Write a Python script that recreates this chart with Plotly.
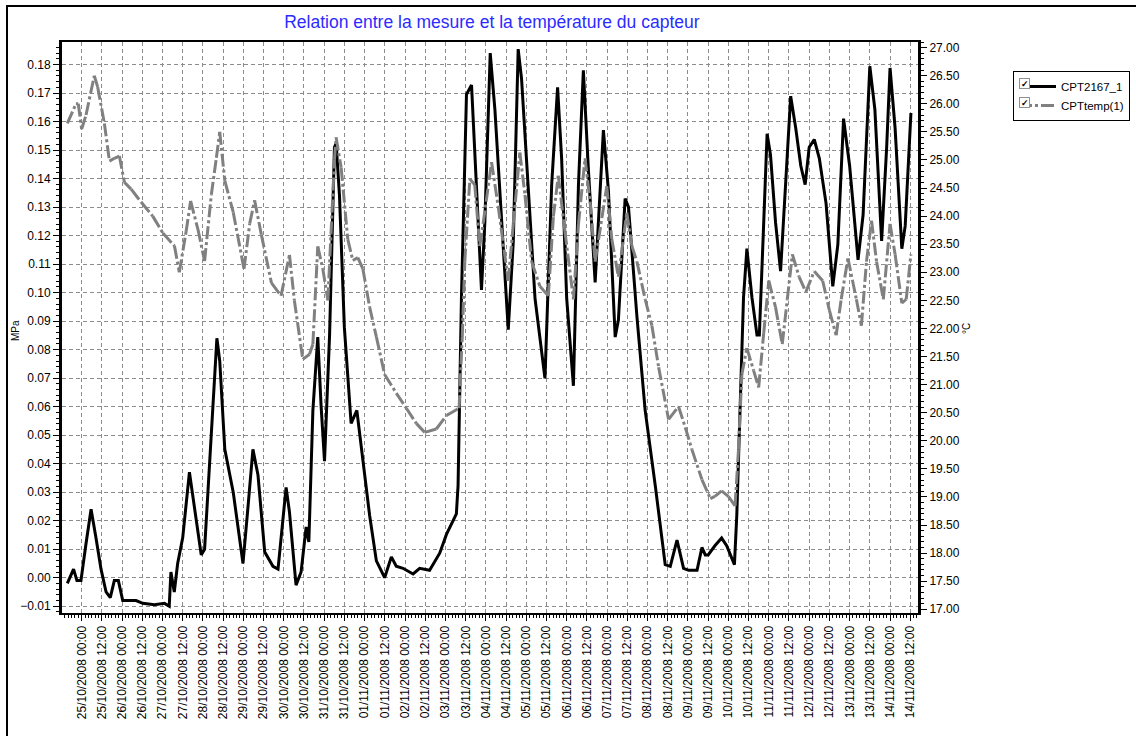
import plotly.graph_objects as go
import pandas as pd

# ---- data (hours after 25/10/2008 00:00) ----
base_time = "2008-10-25 00:00"

pressure_hours = [-8.5, -4.8, -2.8, -0.4, 2.6, 5.6, 8.5, 11.5, 14.5, 17, 19.4, 21.8, 24.4, 32.3, 36.3,
                  43.2, 49.2, 52, 53, 55, 57, 60, 64, 67, 71, 73, 77, 80.3, 82, 85, 90, 95.8, 98.8,
                  101.7, 104.7, 108.7, 113.6, 116.6, 121.4, 123.4, 127.3, 130.3, 133.3, 134.9, 137.3,
                  140.2, 142.2, 144.2, 147.2, 150.1, 151.1, 153.1, 156, 160, 163.4, 167, 171, 175,
                  179.9, 183.9, 186.8, 190.8, 196.8, 200.7, 206.6, 212.6, 216.6, 222.5, 223.5, 225.5,
                  228.5, 231.5, 234.4, 237.4, 239.4, 242.6, 245.4, 249.3, 253.3, 256.3, 259.2, 261.2,
                  265.2, 269.2, 275.1, 279.1, 282.6, 285, 288, 292, 295, 297.9, 300.9, 304.9, 309.8,
                  312.8, 316.8, 318.7, 322.7, 324.7, 329.7, 334.6, 340.6, 346.5, 349.5, 353.5, 357.4,
                  360.4, 365.4, 368.3, 370.3, 372, 376, 380, 383, 386, 387.6, 389, 391, 393, 395, 398,
                  401, 402.4, 405, 407, 409, 412, 415, 418, 421, 424, 427, 429.6, 432, 435, 438, 442,
                  446, 449, 452.4, 456, 461, 464, 468, 471, 475, 478, 480, 483, 487, 489, 492.4]
pressure_mpa = [-0.002, 0.003, -0.001, -0.001, 0.012, 0.024, 0.014, 0.003, -0.005, -0.007, -0.001,
                -0.001, -0.008, -0.008, -0.009, -0.0095, -0.009, -0.010, 0.002, -0.005, 0.005, 0.014,
                0.037, 0.024, 0.008, 0.010, 0.052, 0.084, 0.076, 0.045, 0.030, 0.005, 0.025, 0.045,
                0.036, 0.009, 0.004, 0.003, 0.0317, 0.023, -0.0026, 0.002, 0.0178, 0.0125, 0.0587,
                0.0844, 0.060, 0.0409, 0.085, 0.151, 0.1524, 0.134, 0.0877, 0.0541, 0.0587, 0.0416,
                0.0218, 0.0059, 0.000, 0.0073, 0.004, 0.0033, 0.0013, 0.0033, 0.0026, 0.0086, 0.0152,
                0.0224, 0.0323, 0.098, 0.1695, 0.1728, 0.1379, 0.1009, 0.1247, 0.184, 0.164, 0.1247,
                0.087, 0.118, 0.1854, 0.175, 0.138, 0.098, 0.0699, 0.138, 0.172, 0.147, 0.098,
                0.0673, 0.138, 0.178, 0.143, 0.1036, 0.157, 0.1356, 0.0844, 0.0904, 0.133, 0.130,
                0.0917, 0.0587, 0.0323, 0.0046, 0.004, 0.0132, 0.0033, 0.0026, 0.0026, 0.0106, 0.008,
                0.008, 0.0112, 0.0139, 0.0112, 0.0066, 0.0046, 0.0218, 0.0587, 0.0983, 0.1154, 0.0983,
                0.0851, 0.0851, 0.1247, 0.1557, 0.1484, 0.1247, 0.1075, 0.1379, 0.1689, 0.1577,
                0.1445, 0.1379, 0.151, 0.1537, 0.1471, 0.1313, 0.1022, 0.1168, 0.161, 0.1445,
                0.1115, 0.1273, 0.1794, 0.1642, 0.1181, 0.151, 0.1788, 0.1577, 0.1154, 0.1234, 0.163]

temp_hours = [-8.5, -3.4, -2, 0, 2.6, 7.5, 9.5, 13.5, 16.5, 19.4, 22.4, 25.4, 29.4, 35.3, 42.2, 48.2,
              55.1, 58, 62, 64.7, 69, 73, 77, 80, 82, 85, 90, 96.4, 99.8, 102.7, 106.7, 112.7, 118.4,
              123.4, 126.3, 131.3, 135.3, 137.3, 140.2, 143.2, 146.2, 150.1, 151.1, 154.1, 158, 161,
              164, 167, 171, 175, 179.9, 186.8, 192.8, 198.7, 203.7, 210.6, 216.6, 224.1, 226, 227.5,
              230.5, 233.4, 236.4, 238.4, 243.4, 247.3, 253.3, 256.3, 260.2, 263.2, 267.2, 272.1,
              277.1, 280.1, 283, 287, 292, 295, 298.9, 301.9, 304.9, 311.8, 314.8, 318.7, 323.7,
              326.7, 329.7, 334.6, 338.6, 342.6, 348.5, 354.4, 358.4, 362.4, 368.3, 373.3, 376, 380,
              384, 388, 390, 392, 395, 399, 402, 405, 408, 412, 416, 419, 422, 426, 430, 435, 440,
              444, 448, 451, 455, 460, 463, 466, 469, 472, 476, 480, 483, 487, 489.6, 492.4]
temp_c = [25.65, 26.0, 26.0, 25.55, 25.8, 26.5, 26.3, 25.65, 24.98, 25.03, 25.07, 24.6, 24.48, 24.25,
          24.0, 23.7, 23.47, 23.0, 23.72, 24.27, 23.77, 23.2, 24.38, 25.04, 25.5, 24.63, 24.07, 23.06,
          23.87, 24.28, 23.67, 22.81, 22.58, 23.31, 22.5, 21.45, 21.54, 21.72, 23.46, 23.06, 22.5,
          25.0, 25.4, 24.86, 23.59, 23.21, 23.26, 23.06, 22.38, 21.85, 21.18, 20.85, 20.58, 20.31,
          20.15, 20.21, 20.45, 20.58, 21.85, 23.19, 24.66, 24.56, 23.47, 23.87, 24.96, 24.18, 22.85,
          23.86, 25.13, 24.38, 23.19, 22.75, 22.58, 23.99, 24.72, 23.72, 22.52, 23.86, 25.03, 24.26,
          23.19, 24.53, 23.59, 22.92, 24.06, 23.47, 23.19, 22.52, 22.05, 21.31, 20.38, 20.61, 20.24,
          19.84, 19.31, 18.97, 19.01, 19.11, 19.01, 18.84, 19.84, 21.18, 21.65, 21.25, 20.95, 21.92,
          22.85, 22.38, 21.72, 22.52, 23.32, 22.92, 22.65, 23.02, 22.85, 22.32, 21.88, 22.52, 23.25,
          22.52, 22.05, 23.19, 23.92, 23.19, 22.52, 23.86, 23.32, 22.45, 22.52, 23.32]

series_names = ["CPT2167_1", "CPTtemp(1)"]
title_text = "Relation entre la mesure et la température du capteur"
left_title = "MPa"
right_title = "°C"

t0 = pd.Timestamp(base_time)
px_times = list(t0 + pd.to_timedelta(pressure_hours, unit="h"))
tc_times = list(t0 + pd.to_timedelta(temp_hours, unit="h"))

FONT = "Liberation Sans, Arial, sans-serif"

fig = go.Figure()
fig.add_trace(go.Scatter(x=px_times, y=pressure_mpa, name=series_names[0], mode="lines",
                         line=dict(color="#000000", width=3), yaxis="y"))
# temperature drawn segment by segment so that the dash pattern restarts at every sample,
# as in the original (short, flat segments look solid, steep ones look dash-dotted)
for i in range(len(temp_hours) - 1):
    fig.add_trace(go.Scatter(x=tc_times[i:i + 2], y=temp_c[i:i + 2], name=series_names[1],
                             mode="lines", legendgroup="temp", showlegend=(i == 0),
                             line=dict(color="#808080", width=3, dash="13px,3px,3px,3px"),
                             yaxis="y2", hoverinfo="skip"))

L, R, T, B = 62, 218, 42, 123
W, H = 1136, 736
pw, ph = W - L - R, H - T - B


def px2paper_x(px):
    return (px - L) / pw


def px2paper_y(py):
    return (H - B - py) / ph


grid = dict(showgrid=True, gridcolor="#8c8c8c", gridwidth=1, griddash="4px,3px")

fig.update_layout(
    width=W, height=H,
    margin=dict(l=L, r=R, t=T, b=B, autoexpand=False),
    paper_bgcolor="white", plot_bgcolor="white",
    font=dict(family=FONT, size=12, color="black"),
    title=dict(text=title_text, x=0.433, xref="container", xanchor="center",
               y=1 - 22 / H, yref="container", yanchor="middle",
               font=dict(family=FONT, size=17.5, color="#2b2bff")),
    xaxis=dict(type="date", range=["2008-10-24 12:20", "2008-11-14 16:36"], automargin=False,
               tick0="2008-10-25 00:00", dtick=12 * 3600 * 1000, tickformat="%d/%m/%Y %H:%M",
               tickangle=-90, ticks="outside", ticklen=6, tickcolor="black",
               tickfont=dict(size=12),
               minor=dict(dtick=2 * 3600 * 1000, ticks="outside", ticklen=3, tickcolor="black",
                          showgrid=False),
               showline=True, linecolor="black", linewidth=2, mirror=True, zeroline=False,
               **grid),
    yaxis=dict(range=[-0.01238, 0.1879], dtick=0.01, tick0=0, tickformat=".2f", automargin=False,
               ticks="outside", ticklen=6, tickcolor="black", tickfont=dict(size=12),
               minor=dict(dtick=0.002, ticks="outside", ticklen=3, tickcolor="black", showgrid=False),
               showline=True, linecolor="black", linewidth=3, zeroline=False,
               **grid),
    yaxis2=dict(range=[16.934, 27.10], dtick=0.5, tick0=17, tickformat=".2f", overlaying="y",
                side="right", automargin=False, ticks="outside", ticklen=6, tickcolor="black",
                tickfont=dict(size=12),
                minor=dict(dtick=0.1, ticks="outside", ticklen=3, tickcolor="black", showgrid=False),
                showline=True, linecolor="black", linewidth=3, showgrid=False, zeroline=False),
    legend=dict(x=px2paper_x(1013), y=px2paper_y(71), xanchor="left", yanchor="top",
                bgcolor="white", bordercolor="black", borderwidth=1, itemwidth=37,
                font=dict(family=FONT, size=11.5), tracegroupgap=0),
    showlegend=True,
)

shapes = [
    # outer frame (left & top edges visible)
    dict(type="rect", xref="paper", yref="paper", x0=px2paper_x(7), x1=px2paper_x(1300),
         y0=px2paper_y(900), y1=px2paper_y(6), line=dict(color="black", width=2), layer="below"),
    # legend shadow
    dict(type="rect", xref="paper", yref="paper", x0=px2paper_x(1016), x1=px2paper_x(1129),
         y0=px2paper_y(119), y1=px2paper_y(74), line=dict(width=0), fillcolor="black", layer="below"),
]
fig.update_layout(shapes=shapes)

# axis titles
fig.add_annotation(xref="paper", yref="paper", x=px2paper_x(15), y=px2paper_y(331), text=left_title,
                   textangle=-90, showarrow=False, font=dict(size=10), xanchor="center",
                   yanchor="middle")
fig.add_annotation(xref="paper", yref="paper", x=px2paper_x(966), y=px2paper_y(329), text=right_title,
                   textangle=-90, showarrow=False, font=dict(size=10), xanchor="center",
                   yanchor="middle")

# check boxes of the legend
for yy in (83.5, 102.5):
    fig.add_annotation(xref="paper", yref="paper", x=px2paper_x(1024), y=px2paper_y(yy),
                       text="<b>✓</b>", showarrow=False, font=dict(size=9, color="black"),
                       bgcolor="white", bordercolor="#909090", borderwidth=1, borderpad=0,
                       width=9, height=9, xanchor="center", yanchor="middle")

fig.write_html("out.html", config={"displayModeBar": False},
               post_script="document.body.style.margin='0';")
